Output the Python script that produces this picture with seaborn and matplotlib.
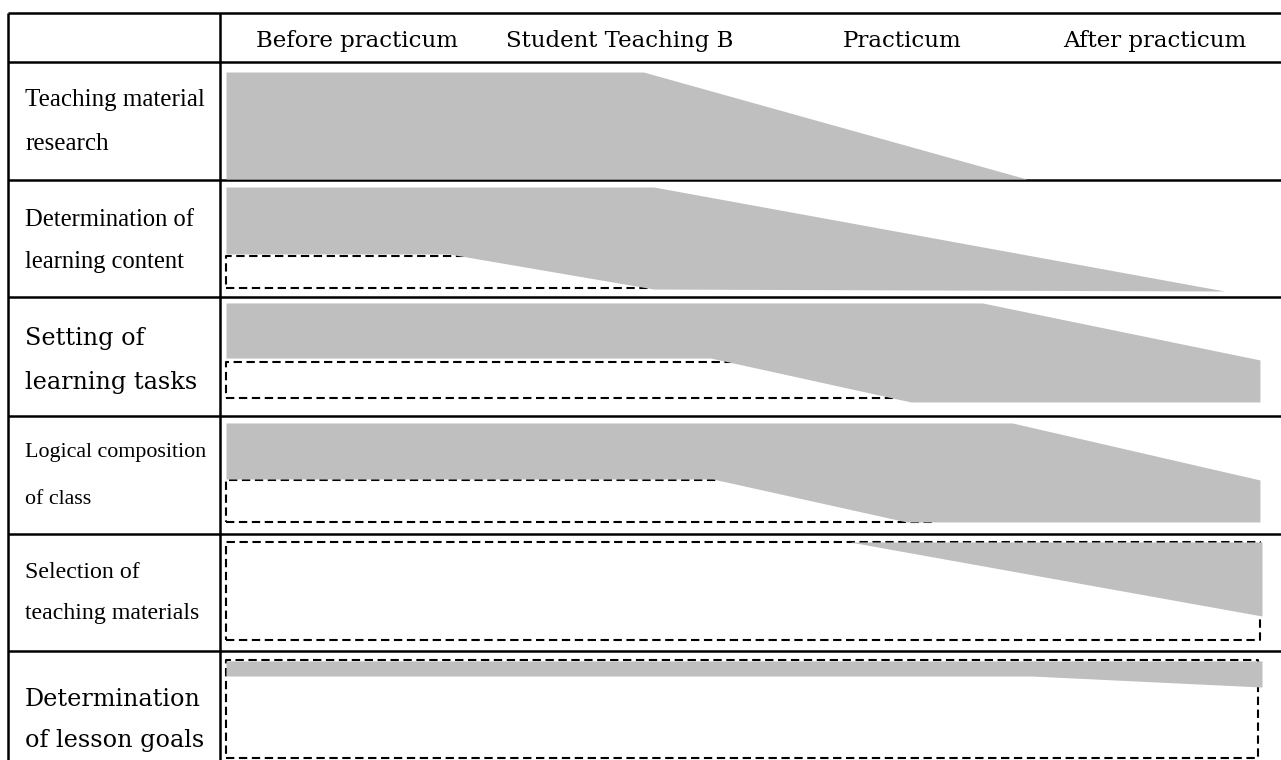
import matplotlib
matplotlib.use("Agg")
import matplotlib.pyplot as plt
import seaborn as sns

# ── Data ──────────────────────────────────────────────────────────────────────
# x: position along the timeline (0 = start of "Before practicum", 100 = end of
# "After practicum");  y: level inside each row (0 = row bottom, 100 = row top)
PHASES = ["Before practicum", "Student Teaching B", "Practicum", "After practicum"]
PHASE_POS = [12.6, 38.0, 65.3, 89.6]

ROW_LABELS = [
    ["Teaching material", "research"],
    ["Determination of", "learning content"],
    ["Setting of", "learning tasks"],
    ["Logical composition", "of class"],
    ["Selection of", "teaching materials"],
    ["Determination", "of lesson goals"],
]
LABEL_WIDE = [False, False, True, False, False, True]
LABEL_SIZE = [18, 17.7, 17.2, 15.8, 17.2, 17.2]

BAND_X = [
    [0, 40.3, 77.3],
    [0, 21.5, 41.3, 96.4],
    [0, 46.8, 66.1, 73.0, 99.8],
    [0, 47.0, 65.7, 75.9, 99.8],
    [60.2, 100],
    [0, 77.8, 100],
]
BAND_UPPER = [
    [91.5, 91.5, 0.8],
    [94.0, 94.0, 94.0, 5.1],
    [95.0, 95.0, 95.0, 95.0, 47.1],
    [94.1, 94.1, 94.1, 94.1, 45.8],
    [93.2, 93.2],
    [91.5, 91.5, 91.5],
]
BAND_LOWER = [
    [0.8, 0.8, 0.8],
    [36.8, 36.8, 6.8, 5.1],
    [48.7, 48.7, 11.8, 11.8, 11.8],
    [46.6, 46.6, 10.2, 10.2, 10.2],
    [93.2, 29.9],
    [78.6, 78.6, 69.2],
]

# dashed outline boxes (None = no box in that row)
BOX_X = [None, (0, 41.1), (0, 65.7), (0, 68.3), (0, 99.8), (0, 99.6)]
BOX_Y = [None, (7.7, 35.0), (15.1, 45.4), (10.2, 45.8), (9.4, 93.2), (8.5, 92.3)]

# ── Layout (pixels) ──────────────────────────────────────────────────────────
W, H = 1281, 760
TABLE_LEFT, LABEL_RIGHT, TABLE_RIGHT = 8, 220, 1281
HEADER_TOP = 13
ROW_EDGES = [62, 180, 297, 416, 534, 651, 768]
PLOT_LEFT, PLOT_RIGHT = 226, 1262
LABEL_X = 25
LABEL_LINES_Y = [(100, 144), (220, 262), (338, 383), (453, 500), (573, 614), (700, 741)]

GRAY = "#BFBFBF"

sns.set_theme(style="white")
plt.rcParams["font.family"] = ["DejaVu Serif"]
plt.rcParams["text.color"] = "black"

fig = plt.figure(figsize=(W / 100, H / 100), dpi=100)
fig.patch.set_facecolor("white")


def px_rect(left, top, right, bottom):
    return [left / W, 1 - bottom / H, (right - left) / W, (bottom - top) / H]


# table grid + row labels, drawn in pixel space
grid = fig.add_axes([0, 0, 1, 1])
grid.set_xlim(0, W)
grid.set_ylim(H, 0)
grid.axis("off")

hlines = [HEADER_TOP] + ROW_EDGES
grid.hlines(hlines, TABLE_LEFT, TABLE_RIGHT, color="black", lw=1.8, zorder=5)
grid.vlines([TABLE_LEFT, LABEL_RIGHT], HEADER_TOP, ROW_EDGES[-1], color="black", lw=1.8, zorder=5)

for (line1, line2), (y1, y2), wide, size in zip(ROW_LABELS, LABEL_LINES_Y, LABEL_WIDE, LABEL_SIZE):
    fam = "DejaVu Serif" if wide else "Liberation Serif"
    grid.text(LABEL_X, y1, line1, family=fam, fontsize=size, va="center", ha="left", color="black")
    grid.text(LABEL_X, y2, line2, family=fam, fontsize=size, va="center", ha="left", color="black")

# header
head = fig.add_axes(px_rect(PLOT_LEFT, HEADER_TOP, PLOT_RIGHT, ROW_EDGES[0]))
head.set_xlim(0, 100)
head.set_ylim(0, 100)
head.axis("off")
for name, pos in zip(PHASES, PHASE_POS):
    head.text(pos, 43, name, ha="center", va="center", fontsize=16.5, color="black")

# bands per row
for i in range(len(ROW_LABELS)):
    ax = fig.add_axes(px_rect(PLOT_LEFT, ROW_EDGES[i], PLOT_RIGHT, ROW_EDGES[i + 1]))
    ax.set_xlim(0, 100)
    ax.set_ylim(0, 100)
    ax.axis("off")
    if BOX_X[i] is not None:
        x0, x1 = BOX_X[i]
        y0, y1 = BOX_Y[i]
        ax.plot([x0, x1, x1, x0, x0], [y0, y0, y1, y1, y0], color="black",
                lw=1.5, linestyle=(0, (4, 2.2)), clip_on=False, zorder=1)
    ax.fill_between(BAND_X[i], BAND_LOWER[i], BAND_UPPER[i], color=GRAY,
                    lw=0, zorder=2)

fig.savefig("out.png", dpi=100)
